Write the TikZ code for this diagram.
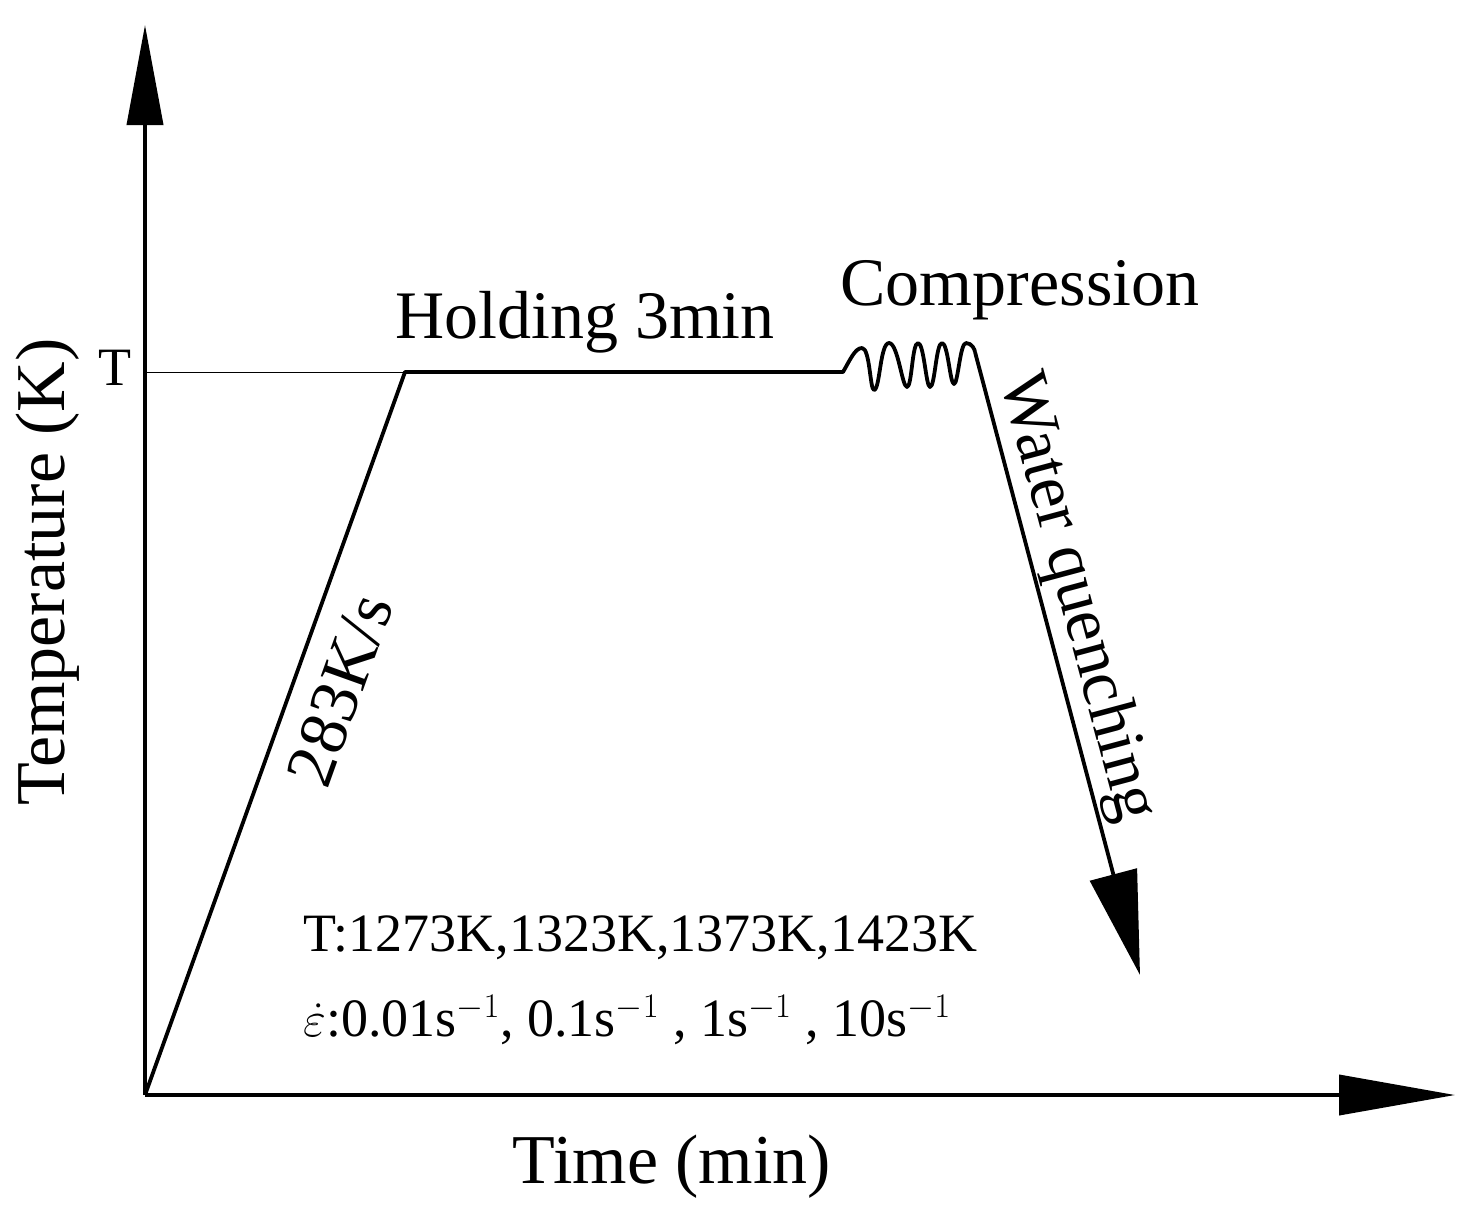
\documentclass[tikz,border=0pt]{standalone}
\usepackage{fontspec}
\setmainfont{Liberation Serif}
\usetikzlibrary{arrows.meta}
\begin{document}
\begin{tikzpicture}[x=0.5pt,y=-0.5pt,
  thickline/.style={line width=1.9pt},
  lbl/.style={font=\fontsize{34}{36}\selectfont, inner sep=0pt},
  big/.style={font=\fontsize{35}{37}\selectfont, inner sep=0pt},
  small/.style={font=\fontsize{27}{29}\selectfont, inner sep=0pt, anchor=west}]
\useasboundingbox (0,0) rectangle (1473,1222);
\coordinate (O) at (145,1095);
\coordinate (ytip) at (145,25);
\coordinate (xtip) at (1455,1095);
\coordinate (Ty) at (145,372);
\coordinate (A) at (405,372);
\coordinate (B) at (843,372);
\coordinate (C) at (975,352);
\coordinate (D) at (1140,975);
\draw[thickline,-{Triangle[width=18pt,length=50pt]}] (O) -- (ytip);
\draw[thickline,-{Triangle[width=20pt,length=58pt]}] (O) -- (xtip);
\draw[line width=0.5pt] (Ty) -- (A);
\draw[thickline,line join=round] (O) -- (A) -- (B)
  .. controls (850,360) and (855,348) .. (862,348)
  .. controls (870,348) and (870,390) .. (874,390)
  .. controls (880,390) and (880,343) .. (889,343)
  .. controls (898,343) and (902,387) .. (907,387)
  .. controls (912,387) and (912,343) .. (918,343)
  .. controls (924,343) and (926,387) .. (930,387)
  .. controls (935,387) and (936,343) .. (942,343)
  .. controls (948,343) and (950,384) .. (954,384)
  .. controls (958,384) and (960,343) .. (966,343)
  .. controls (972,343) and (975,350) .. (C);
\draw[thickline,-{Triangle[width=24pt,length=52pt]}] (C) -- (D);
\node[small] (tl) at (98,368) {T};
\node[lbl] (hold) at (585,322) {Holding 3min};
\node[lbl] (comp) at (1020,290) {Compression};
\node[lbl,rotate=-75] (wq) at (1076,598) {Water quenching};
\node[lbl,rotate=70.3] (rate) at (340,690) {283K/s};
\node[big,rotate=90] (ylab) at (48,572) {Temperature (K)};
\node[big] (xlab) at (672,1167) {Time (min)};
\node[small] (t1) at (303,938) {T:1273K,1323K,1373K,1423K};
\node[small] (t2) at (303,1020) {$\dot{\varepsilon}$:0.01s$^{-1}$, 0.1s$^{-1}$ , 1s$^{-1}$ , 10s$^{-1}$};
\end{tikzpicture}
\end{document}
